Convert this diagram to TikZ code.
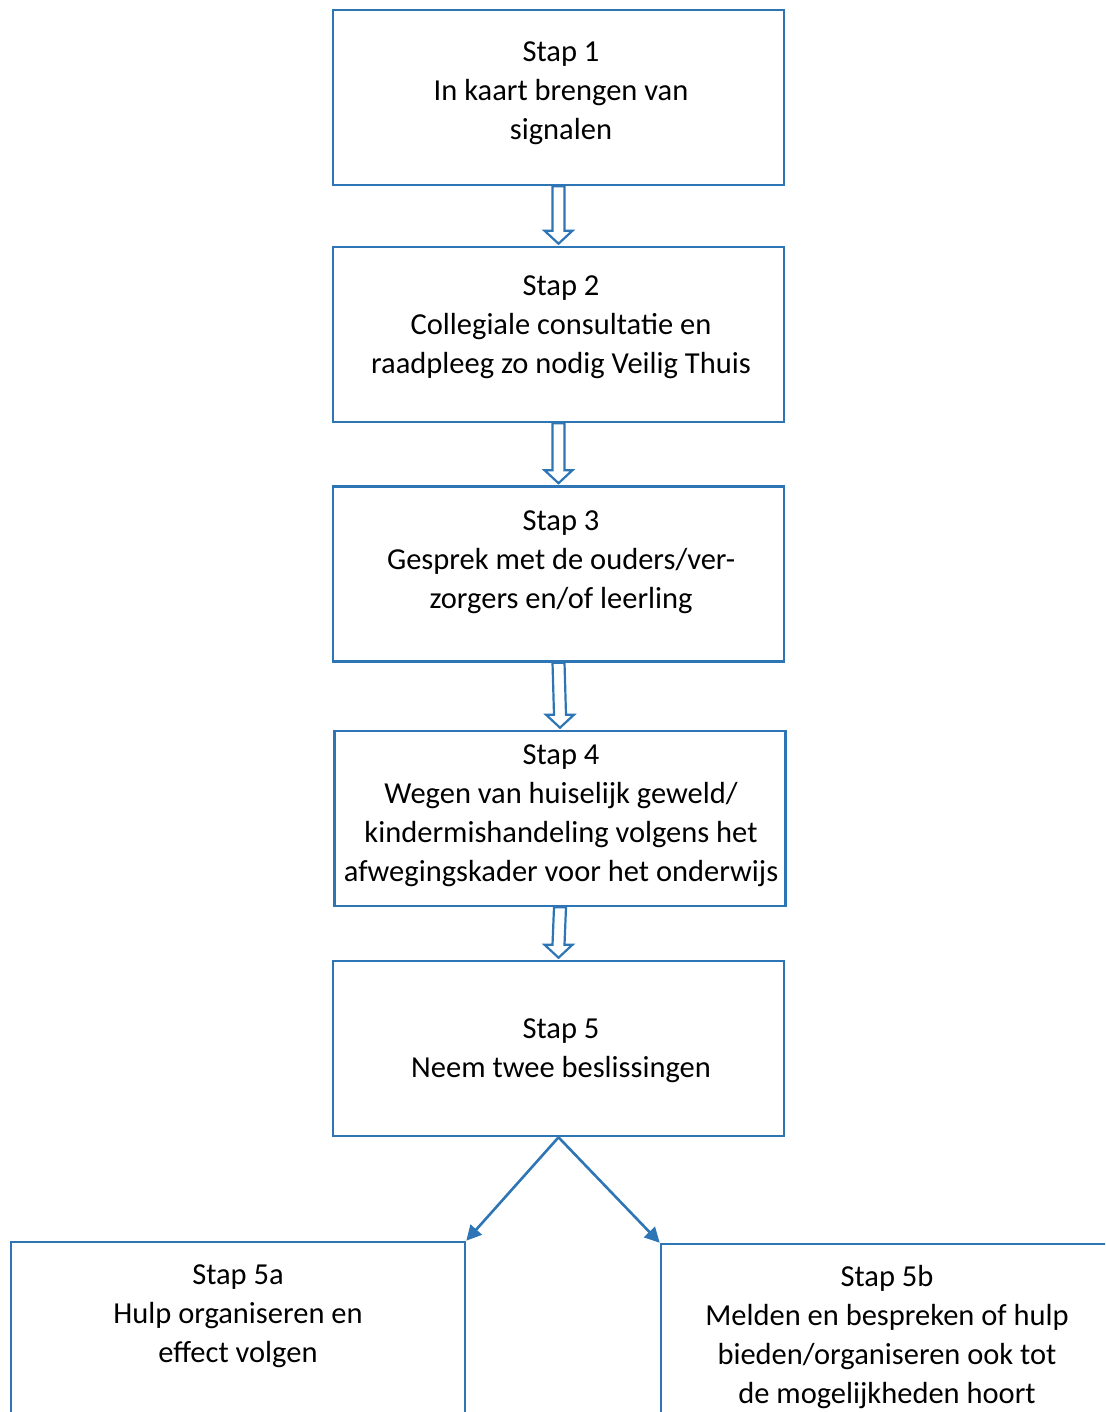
\documentclass[tikz,border=0pt]{standalone}
\usepackage{fontspec}
\setmainfont{Carlito}
\usetikzlibrary{arrows.meta,calc}
\definecolor{wordblue}{RGB}{46,117,182}
\tikzset{
  stepbox/.style={draw=wordblue, line width=2.6pt, minimum width=451pt, minimum height=175pt, inner sep=0pt},
  steptext/.style={align=center, font=\fontsize{30.5}{39}\selectfont},
  hollow/.style={draw=wordblue, line width=2.2pt, line join=miter, fill=white},
  split/.style={draw=wordblue, line width=2.6pt, -{Triangle[length=15pt,width=15pt]}}
}
% hollow block arrow between two boxes
\newcommand{\steparrow}[2]{%
  \draw[hollow] ($(#1.south)+(-6,0)$) -- ($(#2.north)+(-6,15)$) -- ($(#2.north)+(-14,15)$)
    -- ($(#2.north)+(0,2)$) -- ($(#2.north)+(14,15)$) -- ($(#2.north)+(6,15)$)
    -- ($(#1.south)+(6,0)$) -- cycle;}
\begin{document}
\begin{tikzpicture}[x=1pt, y=1pt]
  \path[use as bounding box] (0,0) rectangle (1105,-1412);
  \clip (0,0) rectangle (1105,-1412);

  % main steps
  \node[stepbox] (s1) at (558.5,-97.5) {};
  \node[stepbox] (s2) at (558.5,-334.5) {};
  \node[stepbox] (s3) at (558.5,-574) {};
  \node[stepbox] (s4) at (560,-818.5) {};
  \node[stepbox] (s5) at (558.5,-1048.5) {};
  \node[stepbox, minimum width=454pt, minimum height=300pt] (s5a) at (238,-1392) {};
  \node[stepbox, minimum width=452pt, minimum height=300pt] (s5b) at (887,-1394) {};

  \node[steptext] (t1) at (561,-93.5) {Stap 1\\In kaart brengen van\\signalen};
  \node[steptext] (t2) at (561,-327.5) {Stap 2\\Collegiale consultatie en\\raadpleeg zo nodig Veilig Thuis};
  \node[steptext] (t3) at (561,-562.5) {Stap 3\\Gesprek met de ouders/ver-\\zorgers en/of leerling};
  \node[steptext] (t4) at (561,-816) {Stap 4\\Wegen van huiselijk geweld/\\kindermishandeling volgens het\\afwegingskader voor het onderwijs};
  \node[steptext] (t5) at (561,-1051) {Stap 5\\Neem twee beslissingen};
  \node[steptext] (t5a) at (238,-1316.5) {Stap 5a\\Hulp organiseren en\\effect volgen};
  \node[steptext] (t5b) at (887,-1337) {Stap 5b\\Melden en bespreken of hulp\\bieden/organiseren ook tot\\de mogelijkheden hoort};

  \steparrow{s1}{s2}
  \steparrow{s2}{s3}
  \steparrow{s3}{s4}
  \steparrow{s4}{s5}

  \draw[split] (s5.south) -- (s5a.north east);
  \draw[split] (s5.south) -- (s5b.north west);
\end{tikzpicture}
\end{document}
